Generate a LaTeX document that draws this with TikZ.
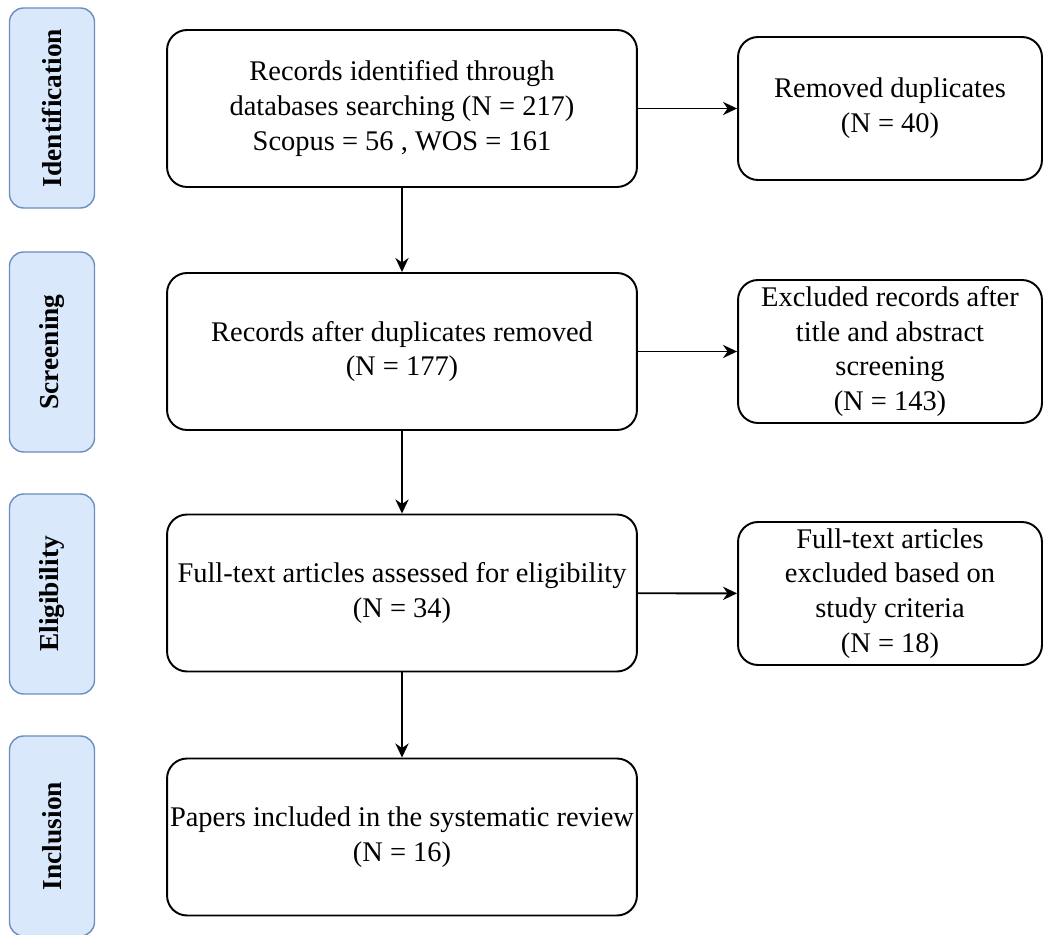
\documentclass[tikz,border=0pt]{standalone}
\usepackage{fontspec}
\setmainfont{Liberation Serif}
\usetikzlibrary{arrows.meta}
\definecolor{sidefill}{HTML}{DAE8FC}
\definecolor{sideline}{HTML}{6C8EBF}
\tikzset{
  mainbox/.style={draw, line width=1.1pt, rounded corners=0.4cm, minimum width=9.4cm,
    minimum height=3.14cm, align=center, inner sep=0pt, font=\fontsize{16.2}{19.8}\selectfont},
  outbox/.style={mainbox, minimum width=6.08cm, minimum height=2.86cm},
  sidebox/.style={draw=sideline, fill=sidefill, line width=0.8pt, rounded corners=0.28cm,
    minimum width=4cm, minimum height=1.7cm, inner sep=0pt, rotate=90,
    font=\bfseries\fontsize{15.6}{19.8}\selectfont},
  flow/.style={-{Stealth[length=8pt,width=7.5pt]}, line width=1.1pt}
}
\begin{document}
\begin{tikzpicture}[x=0.02cm, y=-0.02cm]
  \useasboundingbox (0,0) rectangle (1044,935);

  \node[sidebox] (sideid) at (52,108) {Identification};
  \node[sidebox] (sidescr) at (52,352) {Screening};
  \node[sidebox] (sideelig) at (52,594) {Eligibility};
  \node[sidebox] (sideinc) at (52,836) {Inclusion};

  \node[mainbox] (ident) at (402,108.5) {Records identified through\\databases searching (N = 217)\\Scopus = 56 , WOS = 161};
  \node[mainbox] (screen) at (402,351.5) {Records after duplicates removed\\(N = 177)};
  \node[mainbox] (elig) at (402,593) {Full-text articles assessed for eligibility\\(N = 34)};
  \node[mainbox] (incl) at (402,837) {Papers included in the systematic review\\(N = 16)};

  \node[outbox] (dupl) at (890,108.5) {Removed duplicates\\(N = 40)};
  \node[outbox] (exclscr) at (890,351.5) {Excluded records after\\title and abstract\\screening\\(N = 143)};
  \node[outbox] (exclft) at (890,593.5) {Full-text articles\\excluded based on\\study criteria\\(N = 18)};

  \draw[flow] (ident) -- (screen);
  \draw[flow] (screen) -- (elig);
  \draw[flow] (elig) -- (incl);
  \draw[flow] (ident) -- (dupl);
  \draw[flow] (screen) -- (exclscr);
  \draw[flow] (elig) -- (exclft);
\end{tikzpicture}
\end{document}
